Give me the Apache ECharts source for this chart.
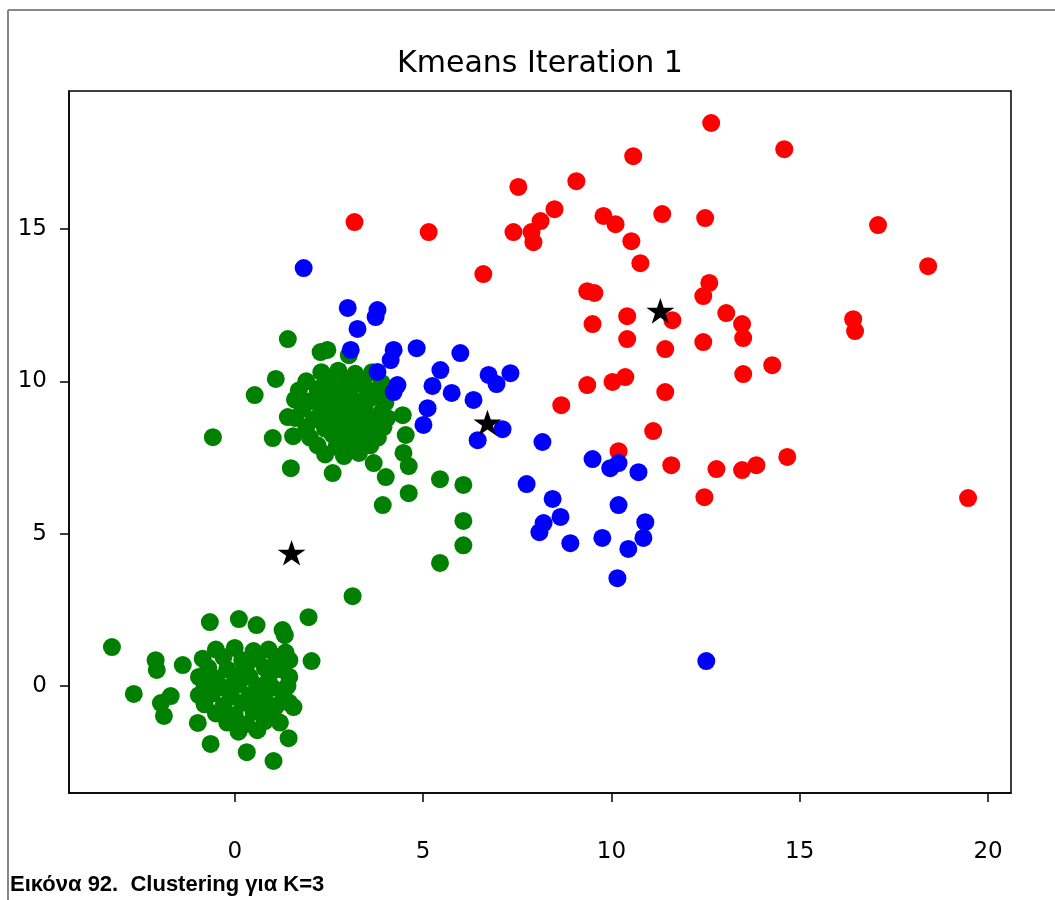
<!DOCTYPE html>
<html>
<head>
<meta charset="utf-8">
<script src="https://cdn.jsdelivr.net/npm/echarts@6/dist/echarts.min.js"></script>
<style>
html,body{margin:0;padding:0;background:#fff;}
#chart{width:1055px;height:900px;}
</style>
</head>
<body>
<div id="chart"></div>
<script>
// ---- data ----
const titleText = 'Kmeans Iteration 1';
const captionText = 'Εικόνα 92.  Clustering για K=3';
const xTicks = [0, 5, 10, 15, 20];
const yTicks = [0, 5, 10, 15];

const greenUpperCore = [
  [2.3,10.3],[2.75,10.35],[3.2,10.25],[3.65,10.3],
  [1.9,10.0],[2.5,10.05],[2.95,9.95],[3.4,10.0],[3.9,9.95],
  [1.7,9.7],[2.2,9.75],[2.65,9.65],[3.05,9.7],[3.5,9.75],[3.85,9.6],
  [1.6,9.4],[2.0,9.35],[2.45,9.45],[2.8,9.4],[3.2,9.35],[3.6,9.45],[4.0,9.3],
  [1.8,9.1],[2.3,9.05],[2.7,9.15],[3.0,9.0],[3.45,9.1],[3.9,9.0],
  [1.6,8.8],[2.1,8.75],[2.5,8.85],[2.9,8.7],[3.3,8.8],[3.7,8.75],[4.05,8.8],
  [1.9,8.5],[2.4,8.45],[2.8,8.55],[3.15,8.5],[3.5,8.4],[3.95,8.5],
  [1.55,8.2],[2.0,8.15],[2.6,8.25],[3.0,8.1],[3.4,8.2],[3.8,8.15],
  [2.2,7.9],[2.7,7.85],[3.1,7.95],[3.6,7.9],
  [2.4,7.6],[2.9,7.55],[3.3,7.65]
];
const greenUpperOuter = [
  [1.41,11.39],[2.28,10.96],[2.46,11.03],[3.03,10.86],[1.09,10.08],[0.53,9.55],
  [1.41,8.83],[1.01,8.14],[1.49,7.15],[2.60,6.99],[3.69,7.32],[4.01,6.86],
  [4.46,8.89],[4.54,8.24],[4.48,7.65],[4.62,7.22],[4.62,6.33],[3.93,5.94],
  [5.45,6.79],[5.45,4.04],[6.07,4.62],[6.07,5.42],[6.07,6.60],[3.13,2.95],[-0.58,8.17]
];
const greenLowerCore = [
  [-0.5,1.2],[0.0,1.25],[0.5,1.15],[0.9,1.2],[1.35,1.1],
  [-0.85,0.9],[-0.3,0.95],[0.2,0.85],[0.6,0.9],[1.1,0.95],[1.45,0.85],
  [-0.7,0.6],[-0.2,0.55],[0.3,0.65],[0.8,0.6],[1.2,0.55],
  [-0.95,0.3],[-0.5,0.25],[0.0,0.35],[0.4,0.3],[0.9,0.2],[1.45,0.3],
  [-0.8,0.0],[-0.3,-0.05],[0.1,0.05],[0.6,0.0],[1.0,-0.05],[1.4,0.0],
  [-0.95,-0.3],[-0.6,-0.25],[-0.1,-0.35],[0.4,-0.3],[0.8,-0.25],[1.3,-0.35],
  [-0.8,-0.6],[-0.3,-0.65],[0.2,-0.55],[0.7,-0.6],[1.1,-0.65],[1.45,-0.55],
  [-0.5,-0.9],[0.0,-0.95],[0.5,-0.85],[1.0,-0.9],
  [-0.2,-1.2],[0.3,-1.25],[0.8,-1.15],[1.2,-1.2],
  [0.1,-1.5],[0.6,-1.45]
];
const greenLowerOuter = [
  [-3.26,1.28],[-2.68,-0.26],[-2.10,0.85],[-2.07,0.53],[-1.96,-0.56],[-1.88,-0.98],
  [-1.70,-0.33],[-1.38,0.69],[-0.98,-1.21],[-0.66,2.10],[-0.64,-1.90],[0.11,2.20],
  [0.32,-2.17],[0.58,2.00],[1.03,-2.46],[1.27,1.84],[1.33,1.67],[1.43,-1.71],
  [1.96,2.26],[2.04,0.82],[1.56,-0.69]
];
const redPoints = [
  [3.18,15.23],[5.15,14.90],[6.60,13.52],[7.40,14.90],[7.53,16.38],[7.88,14.90],
  [7.93,14.57],[8.12,15.26],[8.49,15.65],[9.07,16.57],[9.79,15.43],[10.11,15.16],
  [10.53,14.60],[10.58,17.39],[10.77,13.88],[11.35,15.49],[12.49,15.36],[12.65,18.48],
  [14.59,17.62],[12.60,13.23],[12.44,12.80],[9.36,12.96],[9.55,12.90],[10.42,12.14],
  [11.62,12.01],[9.50,11.88],[10.42,11.39],[11.43,11.06],[12.44,11.29],[13.05,12.24],
  [13.47,11.88],[13.50,11.42],[14.27,10.53],[13.50,10.24],[11.43,9.65],[10.37,10.14],
  [10.03,9.98],[9.36,9.88],[8.67,9.22],[11.11,8.37],[10.19,7.71],[11.59,7.25],
  [12.79,7.12],[13.47,7.09],[13.85,7.25],[14.67,7.52],[12.47,6.20],[17.08,15.13],
  [18.41,13.78],[16.42,12.04],[16.47,11.65],[19.47,6.17]
];
const bluePoints = [
  [1.83,13.72],[3.00,12.41],[3.79,12.34],[3.74,12.11],[3.26,11.72],[3.08,11.03],
  [4.22,11.03],[4.14,10.70],[3.79,10.31],[4.83,11.09],[5.99,10.93],[5.46,10.37],
  [5.25,9.85],[5.76,9.62],[4.32,9.88],[4.22,9.65],[6.34,9.39],[6.74,10.21],
  [6.95,9.91],[7.32,10.27],[5.12,9.12],[5.01,8.57],[7.11,8.43],[6.45,8.07],
  [8.17,8.01],[9.50,7.45],[9.97,7.15],[10.19,7.32],[10.72,7.02],[7.75,6.63],
  [8.44,6.14],[10.19,5.94],[8.65,5.55],[8.20,5.35],[8.09,5.05],[8.91,4.69],
  [9.76,4.86],[10.45,4.50],[10.90,5.38],[10.85,4.86],[10.16,3.54],[12.52,0.82]
];
const centroids = [[1.51,4.33],[6.71,8.60],[11.30,12.27]];

const greenPoints = greenUpperCore.concat(greenUpperOuter, greenLowerCore, greenLowerOuter);

const starPath = 'path://M50 0 L61.23 34.55 L97.55 34.55 L68.17 55.9 L79.39 90.45 L50 69.1 L20.61 90.45 L31.83 55.9 L2.45 34.55 L38.77 34.55 Z';

const chart = echarts.init(document.getElementById('chart'), null, {renderer: 'canvas'});
const tickFont = {fontFamily: 'DejaVu Sans', fontSize: 23, color: '#000'};

const dotSeries = (name, data, color) => ({
  name, type: 'scatter', data,
  symbol: 'circle', symbolSize: 18,
  itemStyle: {color: color, opacity: 1},
  emphasis: {disabled: true},
  silent: true
});

chart.setOption({
  animation: false,
  backgroundColor: '#fff',
  grid: {left: 69, right: 44, top: 91, bottom: 107, show: true, borderColor: '#000', borderWidth: 1.5},
  xAxis: {
    type: 'value', min: -4.40, max: 20.61,
    splitLine: {show: false},
    axisLine: {show: true, onZero: false, lineStyle: {color: '#000', width: 1.5}},
    axisTick: {show: true, length: 9, customValues: xTicks, lineStyle: {color: '#000', width: 1.5}},
    axisLabel: Object.assign({margin: 48, customValues: xTicks, formatter: v => String(v)}, tickFont)
  },
  yAxis: {
    type: 'value', min: -3.51, max: 19.53,
    splitLine: {show: false},
    axisLine: {show: true, onZero: false, lineStyle: {color: '#000', width: 1.5}},
    axisTick: {show: true, length: 9, customValues: yTicks, lineStyle: {color: '#000', width: 1.5}},
    axisLabel: Object.assign({margin: 22, customValues: yTicks, formatter: v => String(v)}, tickFont)
  },
  series: [
    dotSeries('green', greenPoints, '#008000'),
    dotSeries('red', redPoints, '#ff0000'),
    dotSeries('blue', bluePoints, '#0000ff'),
    {
      name: 'centroids', type: 'scatter', data: centroids,
      symbol: starPath, symbolSize: [28, 27], symbolKeepAspect: true, symbolOffset: [0, -1.4],
      itemStyle: {color: '#000', opacity: 1}, emphasis: {disabled: true}, silent: true
    }
  ],
  graphic: [
    {type: 'line', shape: {x1: 8, y1: 10, x2: 1055, y2: 10}, style: {stroke: '#888', lineWidth: 2}, silent: true},
    {type: 'line', shape: {x1: 8, y1: 10, x2: 8, y2: 900}, style: {stroke: '#888', lineWidth: 2}, silent: true},
    {type: 'text', x: 540, y: 64, style: {text: titleText, fill: '#000', font: '30px "DejaVu Sans"', align: 'center', verticalAlign: 'middle'}, silent: true},
    {type: 'text', x: 10, y: 885, style: {text: captionText, fill: '#000', font: 'bold 22px "Liberation Sans"', align: 'left', verticalAlign: 'middle'}, silent: true}
  ]
});
</script>
</body>
</html>
